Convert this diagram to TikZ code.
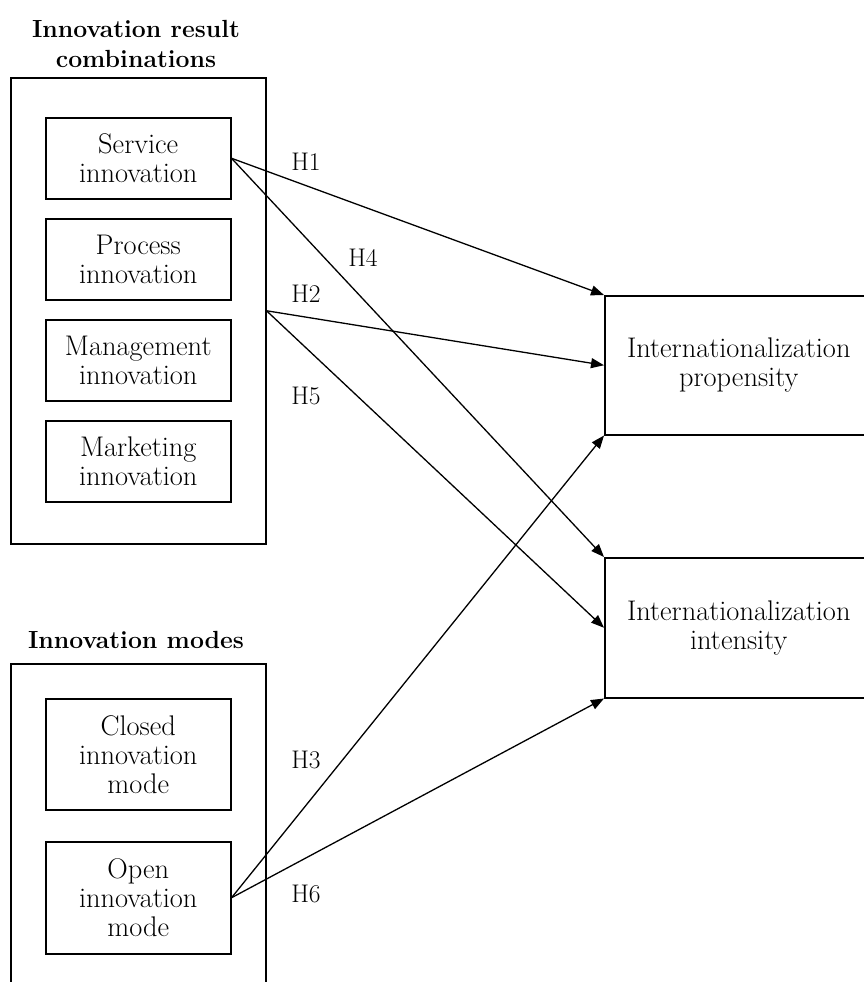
\documentclass[tikz,border=0pt]{standalone}
\usepackage{tikz}
\usetikzlibrary{arrows.meta}

\tikzset{
  frame/.style={draw, line width=1.5pt, inner sep=0pt, anchor=north west},
  item/.style={frame, align=center, minimum width=185pt, minimum height=81pt},
  target/.style={frame, align=center, minimum width=268pt, minimum height=139pt},
  heading/.style={align=center, font=\fontsize{24.8}{30}\selectfont\bfseries},
  hyp/.style={line width=1.3pt, -{Triangle[length=13pt,width=10pt]}},
  hlabel/.style={inner sep=0pt, font=\fontsize{25.5}{29}\selectfont}
}

\begin{document}
\begin{tikzpicture}[x=1pt,y=-1pt,font=\fontsize{28.4}{29}\selectfont]
\useasboundingbox (0,0) rectangle (864,982);
\clip (0,0) rectangle (864,982);
\node[heading] (ttlres) at (136,44) {Innovation result\\combinations};
\node[frame, minimum width=255pt, minimum height=466pt] (combo) at (10,77) {};
\node[item] (serv) at (45,117) {Service\\innovation};
\node[item] (proc) at (45,218) {Process\\innovation};
\node[item] (mgmt) at (45,319) {Management\\innovation};
\node[item] (mkt) at (45,420) {Marketing\\innovation};

\node[heading] (ttlmode) at (136,640) {Innovation modes};
\node[frame, minimum width=255pt, minimum height=360pt] (modes) at (10,663) {};
\node[item, minimum height=111pt] (closed) at (45,698) {Closed\\innovation\\mode};
\node[item, minimum height=112pt] (open) at (45,841) {Open\\innovation\\mode};

\node[target] (prop) at (604,295) {Internationalization\\propensity};
\node[target, minimum height=140pt] (intens) at (604,557) {Internationalization\\intensity};

\draw[hyp] (serv.east) -- (prop.north west);
\draw[hyp] (serv.east) -- (intens.north west);
\draw[hyp] (combo.east) -- (prop.west);
\draw[hyp] (combo.east) -- (intens.west);
\draw[hyp] (open.east) -- (prop.south west);
\draw[hyp] (open.east) -- (intens.south west);

\node[hlabel] (h1) at (306,162) {H1};
\node[hlabel] (h4) at (363,258) {H4};
\node[hlabel] (h2) at (306,294) {H2};
\node[hlabel] (h5) at (306,396) {H5};
\node[hlabel] (h3) at (306,760) {H3};
\node[hlabel] (h6) at (306,894) {H6};
\end{tikzpicture}
\end{document}
